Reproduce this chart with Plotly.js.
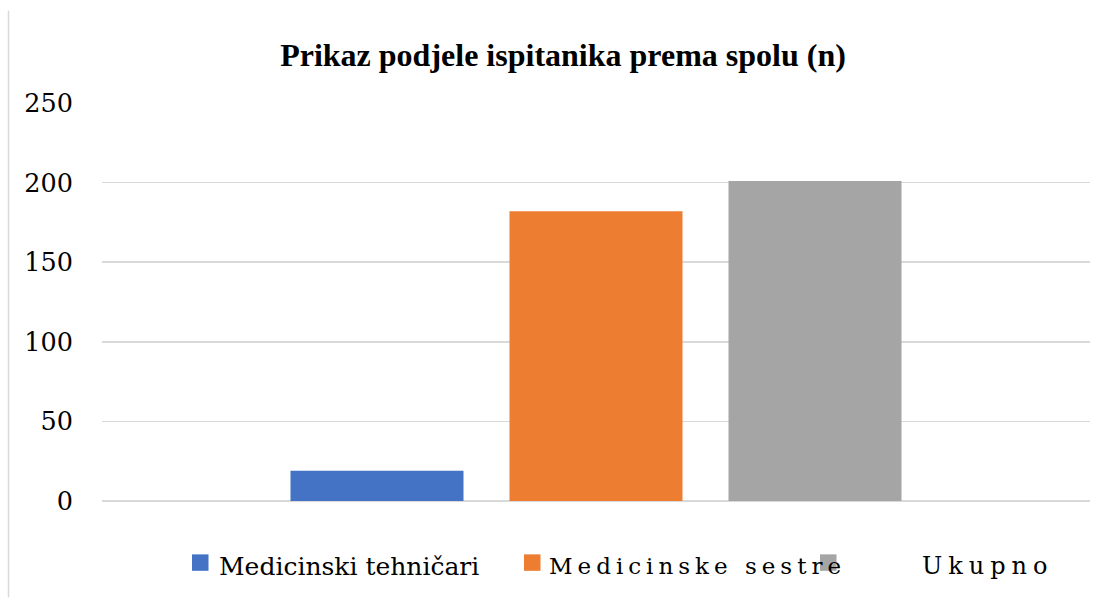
<!DOCTYPE html>
<html>
<head>
<meta charset="utf-8">
<script src="https://cdn.plot.ly/plotly-3.0.1.min.js"></script>
<style>html,body{margin:0;padding:0;background:#fff;}#chart{width:1108px;height:598px;}</style>
</head>
<body>
<div id="chart"></div>
<script>
const categories = ['Spol'];
const seriesNames = ['Medicinski tehničari', 'Medicinske sestre', 'Ukupno'];
const seriesValues = [[19], [182], [201]];
const seriesColors = ['#4472C4', '#ED7D31', '#A5A5A5'];
const yTicks = [0, 50, 100, 150, 200, 250];

const TITLE_FONT = 'Liberation Serif';
const TEXT_FONT = 'DejaVu Serif';
const L = 102, R = 1090, T = 102.5, B = 501.5;
const px = x => (x - L) / (R - L);
const py = y => (B - y) / (B - T);

const traces = seriesNames.map((n, i) => ({
  type: 'bar', name: n, x: categories, y: seriesValues[i],
  marker: {color: seriesColors[i]}, hoverinfo: 'skip'
}));

// custom legend
const legMarkers = [192, 524, 820];
const legText = [217, 547, 920];
const legSpacing = [0, 5, 6];
const legSizes = [25, 23, 24];
const shapes = [{
  type: 'line', xref: 'paper', yref: 'paper',
  x0: px(8.5), x1: px(8.5), y0: py(10), y1: py(598),
  line: {color: '#d9d9d9', width: 1.5}
}];
const annotations = [];
seriesNames.forEach((n, i) => {
  shapes.push({
    type: 'rect', xref: 'paper', yref: 'paper',
    x0: px(legMarkers[i]), x1: px(legMarkers[i] + 16.5),
    y0: py(555), y1: py(571.5),
    fillcolor: seriesColors[i], line: {width: 0}
  });
  const txt = legSpacing[i] ? '<span style="letter-spacing:' + legSpacing[i] + 'px">' + n + '</span>' : n;
  annotations.push({
    xref: 'paper', yref: 'paper', x: px(legText[i]), y: py(567),
    xanchor: 'left', yanchor: 'middle', showarrow: false, text: txt,
    font: {family: TEXT_FONT, size: legSizes[i], color: '#000'}
  });
});

const layout = {
  width: 1108, height: 598,
  margin: {l: L, r: 1108 - R, t: T, b: 598 - B, pad: 0},
  paper_bgcolor: '#fff', plot_bgcolor: '#fff',
  showlegend: false,
  barmode: 'group', bargap: 0.335, bargroupgap: 0.21,
  title: {
    text: '<b>Prikaz podjele ispitanika prema spolu (n)</b>',
    x: 563 / 1108, xanchor: 'center', xref: 'container',
    y: 1 - 55 / 598, yanchor: 'middle', yref: 'container',
    font: {family: TITLE_FONT, size: 32, color: '#000'}
  },
  xaxis: {showticklabels: false, showgrid: false, zeroline: false, showline: false, ticks: ''},
  yaxis: {
    range: [0, 250], tickvals: yTicks, ticktext: yTicks.map(String),
    showgrid: true, gridcolor: '#d9d9d9', gridwidth: 1.5,
    zeroline: true, zerolinecolor: '#d9d9d9', zerolinewidth: 1.5,
    showline: false, ticks: '', ticklabelstandoff: 28,
    tickfont: {family: TEXT_FONT, size: 25.5, color: '#000'}
  },
  shapes: shapes,
  annotations: annotations
};

Plotly.newPlot('chart', traces, layout, {displayModeBar: false, staticPlot: true});
</script>
</body>
</html>
